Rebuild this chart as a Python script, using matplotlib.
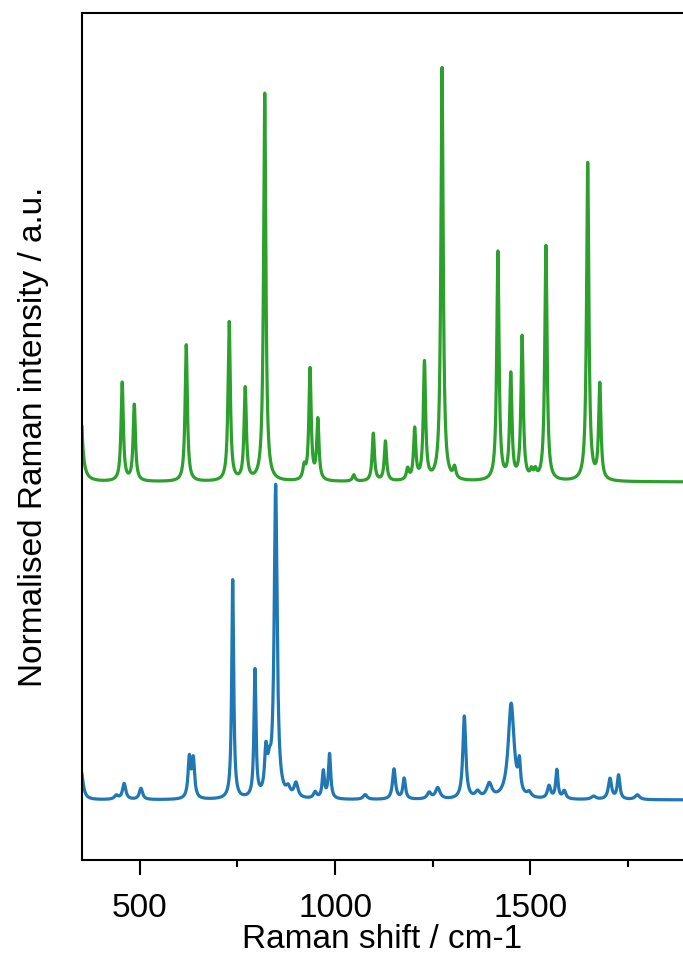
import numpy as np
import matplotlib.pyplot as plt

plt.rcParams['font.family'] = ['Liberation Sans', 'DejaVu Sans']

# Peak tables (position cm-1, height, FWHM cm-1)
# top spectrum (green), drawn with an offset of 1.0
green_pos = [346, 455, 486, 619, 729, 770, 820, 921, 936, 956, 1048, 1098, 1129,
             1186, 1204, 1229, 1274, 1306, 1417, 1450, 1479, 1503, 1513, 1540,
             1647, 1678]
green_height = [0.42, 0.31, 0.24, 0.43, 0.50, 0.29, 1.22, 0.04, 0.35, 0.19, 0.02,
                0.15, 0.125, 0.035, 0.16, 0.37, 1.30, 0.035, 0.72, 0.33, 0.45,
                0.025, 0.025, 0.74, 1.0, 0.30]
green_fwhm = [10, 7, 7, 7, 7, 7, 7, 8, 7, 7, 8, 7, 7, 8, 7, 7, 7, 8, 7, 7, 7, 8,
              8, 7, 7, 7]

# bottom spectrum (blue)
blue_pos = [350, 440, 460, 503, 627, 637, 738, 795, 823, 832, 848, 880, 900, 949,
            970, 986, 1077, 1151, 1177, 1241, 1263, 1331, 1365, 1395, 1451, 1472,
            1497, 1548, 1568, 1587, 1662, 1704, 1726, 1774]
blue_height = [0.09, 0.012, 0.05, 0.035, 0.125, 0.12, 0.69, 0.40, 0.13, 0.07, 0.98,
               0.025, 0.045, 0.02, 0.085, 0.14, 0.015, 0.095, 0.065, 0.02, 0.035,
               0.26, 0.02, 0.045, 0.30, 0.09, 0.015, 0.04, 0.09, 0.025, 0.01,
               0.065, 0.075, 0.015]
blue_fwhm = [12, 12, 10, 10, 8, 8, 6, 6, 8, 10, 9, 12, 12, 10, 7, 7, 12, 9, 8,
             12, 14, 9, 14, 16, 18, 7, 12, 10, 7, 10, 14, 10, 8, 14]

green_offset = 1.0


def spectrum(x, pos, height, fwhm):
    y = np.zeros_like(x)
    for p, h, w in zip(pos, height, fwhm):
        y += h / (1 + ((x - p) / (w / 2)) ** 2)
    return y


shift = np.linspace(340, 1900, 6000)
blue = spectrum(shift, blue_pos, blue_height, blue_fwhm)
green = spectrum(shift, green_pos, green_height, green_fwhm) + green_offset

fig = plt.figure(figsize=(6.83, 9.56), dpi=100)
ax = fig.add_axes([0.12, 0.1004, 0.88, 0.886])

ax.plot(shift, blue, color='#1f77b4', lw=2.3)
ax.plot(shift, green, color='#2ca02c', lw=2.3)

ax.set_xlim(352, 1891)
ax.set_ylim(-0.189, 2.475)

ax.set_xticks([500, 1000, 1500])
ax.set_xticks([750, 1250, 1750], minor=True)
ax.set_yticks([])
ax.tick_params(axis='x', which='major', length=11, width=1.5, labelsize=24, pad=13)
ax.tick_params(axis='x', which='minor', length=5, width=1.5)

ax.spines['right'].set_visible(False)
for s in ['left', 'top', 'bottom']:
    ax.spines[s].set_linewidth(1.5)

ax.set_xlabel('Raman shift / cm-1', fontsize=24, labelpad=0)
ax.set_ylabel('Normalised Raman intensity / a.u.', fontsize=24, labelpad=24)

plt.savefig('out.png', dpi=100)
